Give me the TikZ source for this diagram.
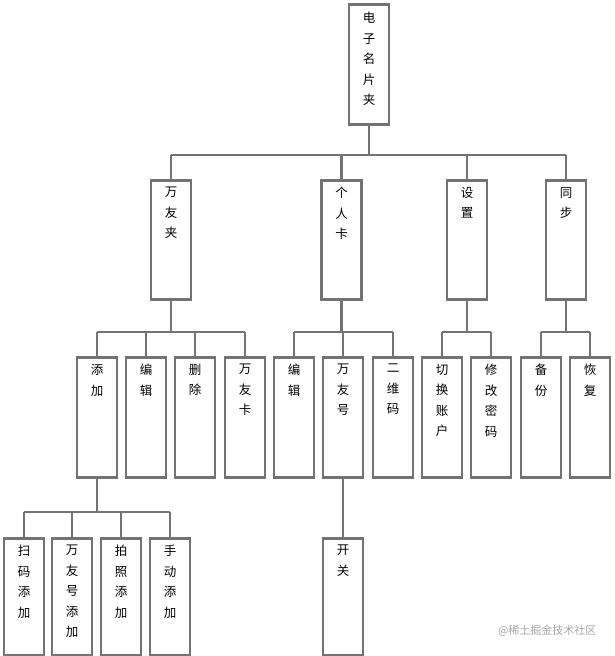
\documentclass[tikz,border=0pt]{standalone}
\usepackage{fontspec}
\newfontfamily\cjk{Noto Sans CJK SC}
\definecolor{ln}{HTML}{737373}
\begin{document}
\begin{tikzpicture}[x=1pt,y=-1pt,
  box/.style={draw=ln,line width=2.6pt,fill=white,minimum width=40pt,anchor=north,inner sep=0},
  txt/.style={anchor=north,align=center,font=\cjk\fontsize{12.5}{20.5}\selectfont,inner sep=0,text=black},
  conn/.style={draw=ln,line width=2.6pt}]
\useasboundingbox (0,0) rectangle (615,656);
\coordinate (b1) at (0,155);
\coordinate (b2) at (0,332);
\coordinate (b3) at (0,512);
\newcommand\bx[6]{\node[box,minimum height=#3pt] (#1) at (#2,#4) {};
  \node[txt] (#1t) at ([yshift=-#5pt]#1.north) {#6};}
% connectors
\draw[conn] (369,123) -- (369,155);
\draw[conn] (171,155) -- (566,155);
\foreach \x in {171,341.5,467,566} \draw[conn] (\x,155) -- (\x,180);
\draw[conn] (171,298) -- (171,332); \draw[conn] (97,332) -- (245,332);
\foreach \x in {97,146,195,245} \draw[conn] (\x,332) -- (\x,357);
\draw[conn] (341.5,298) -- (341.5,332); \draw[conn] (294,332) -- (393,332);
\foreach \x in {294,343,393} \draw[conn] (\x,332) -- (\x,357);
\draw[conn] (467,298) -- (467,332); \draw[conn] (442,332) -- (491,332);
\foreach \x in {442,491} \draw[conn] (\x,332) -- (\x,357);
\draw[conn] (566,298) -- (566,332); \draw[conn] (541,332) -- (590,332);
\foreach \x in {541,590} \draw[conn] (\x,332) -- (\x,357);
\draw[conn] (97,476) -- (97,512); \draw[conn] (24,512) -- (170,512);
\foreach \x in {24,72,121,170} \draw[conn] (\x,512) -- (\x,538);
\draw[conn] (343,476) -- (343,538);
% root
\bx{root}{369}{120}{3}{9}{电\\子\\名\\片\\夹}
% level 2
\bx{wyj}{171}{119}{179}{8}{万\\友\\夹}
\bx{grk}{341.5}{119}{179}{8}{个\\人\\卡}
\bx{sz}{467}{119}{179}{8}{设\\置}
\bx{tb}{566}{119}{179}{8}{同\\步}
% level 3
\bx{tj}{97}{120}{356}{8}{添\\加}
\bx{bj}{146}{120}{356}{8}{编\\辑}
\bx{sc}{195}{120}{356}{8}{删\\除}
\bx{wyk}{245}{120}{356}{8}{万\\友\\卡}
\bx{bj2}{294}{120}{356}{8}{编\\辑}
\bx{wyh}{343}{120}{356}{8}{万\\友\\号}
\bx{ewm}{393}{120}{356}{8}{二\\维\\码}
\bx{qh}{442}{120}{356}{8}{切\\换\\账\\户}
\bx{xg}{491}{120}{356}{8}{修\\改\\密\\码}
\bx{bf}{541}{120}{356}{8}{备\\份}
\bx{hf}{590}{120}{356}{8}{恢\\复}
% level 4
\bx{sm}{24}{117}{537}{8}{扫\\码\\添\\加}
\bx{wyht}{72}{117}{537}{8}{万\\友\\号\\添\\加}
\bx{pz}{121}{117}{537}{8}{拍\\照\\添\\加}
\bx{sd}{170}{117}{537}{8}{手\\动\\添\\加}
\bx{kg}{343}{117}{537}{8}{开\\关}
\node[anchor=east,font=\cjk\fontsize{11}{13}\selectfont,text=gray!70] (wm) at (600,631) {@稀土掘金技术社区};
\end{tikzpicture}
\end{document}
